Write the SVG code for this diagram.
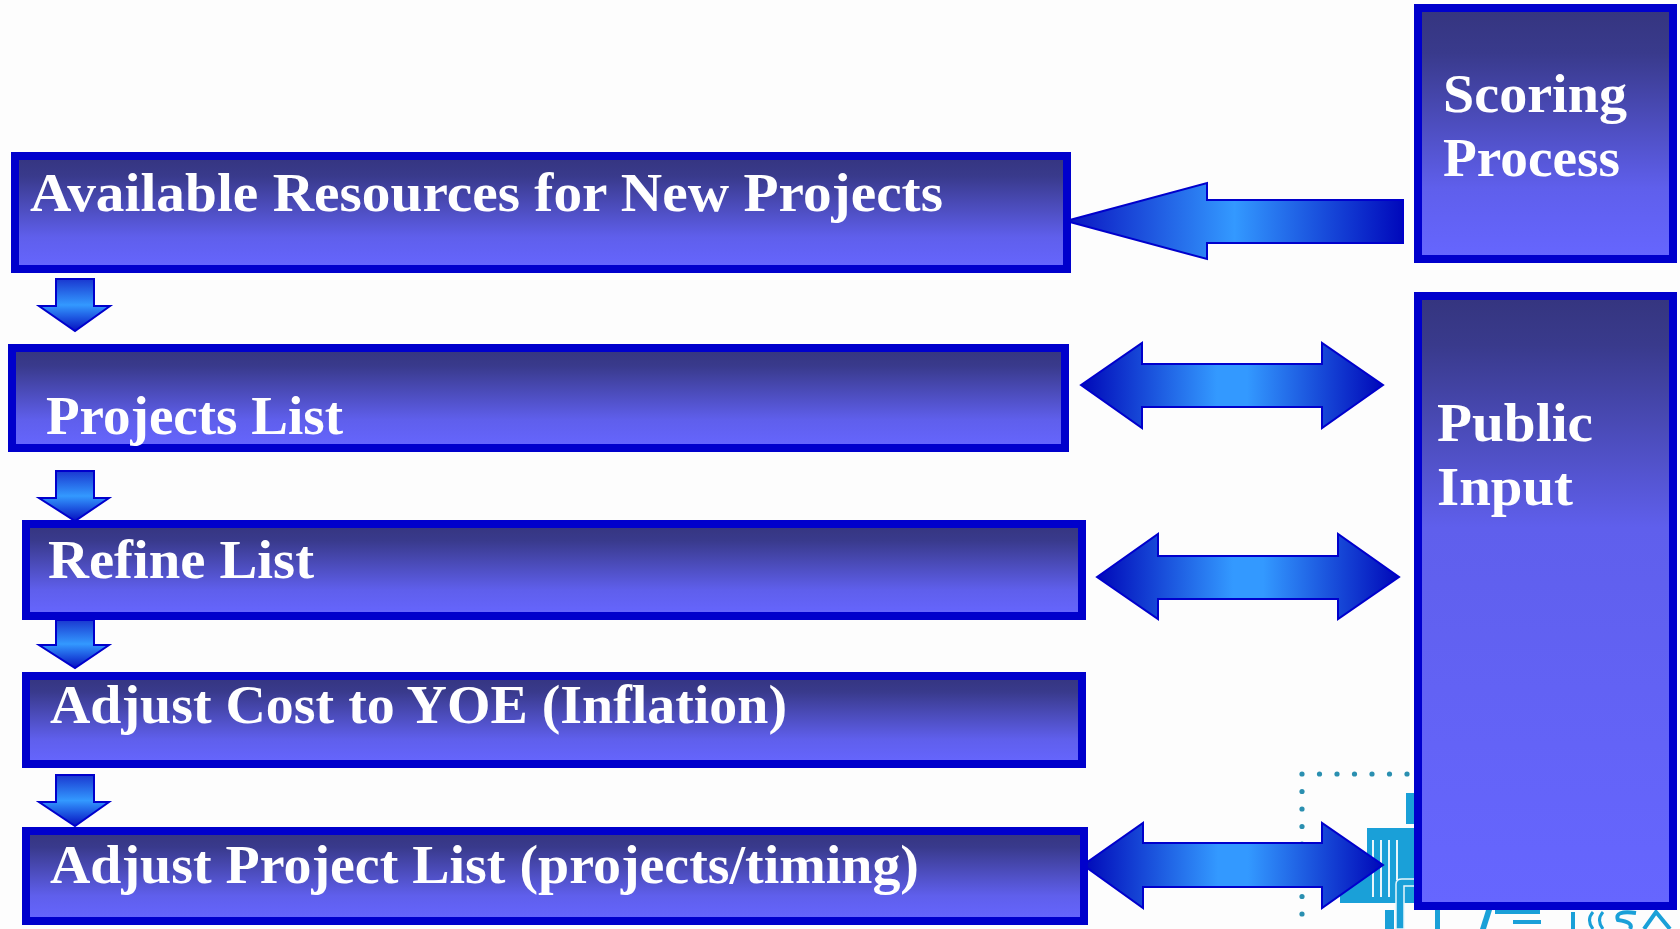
<svg xmlns="http://www.w3.org/2000/svg" width="1680" height="929" viewBox="0 0 1680 929">
  <defs>
    <linearGradient id="boxGrad" x1="0" y1="0" x2="0" y2="1">
      <stop offset="0" stop-color="#35357f"/>
      <stop offset="0.18" stop-color="#393a8c"/>
      <stop offset="0.72" stop-color="#5f5fec"/>
      <stop offset="1" stop-color="#6666ff"/>
    </linearGradient>
    <linearGradient id="tallGrad" gradientUnits="userSpaceOnUse" x1="0" y1="296" x2="0" y2="906">
      <stop offset="0" stop-color="#35357f"/>
      <stop offset="0.08" stop-color="#393a8c"/>
      <stop offset="0.38" stop-color="#5f5fec"/>
      <stop offset="1" stop-color="#6666ff"/>
    </linearGradient>
    <linearGradient id="hArrow" x1="0" y1="0" x2="1" y2="0">
      <stop offset="0" stop-color="#0008b8"/>
      <stop offset="0.45" stop-color="#3399ff"/>
      <stop offset="0.55" stop-color="#3399ff"/>
      <stop offset="1" stop-color="#0008b8"/>
    </linearGradient>
    <linearGradient id="lArrow" x1="0" y1="0" x2="1" y2="0">
      <stop offset="0" stop-color="#0a14c0"/>
      <stop offset="0.5" stop-color="#3399ff"/>
      <stop offset="1" stop-color="#0008bb"/>
    </linearGradient>
    <linearGradient id="vArrow" x1="0" y1="0" x2="0" y2="1">
      <stop offset="0" stop-color="#1a38d0"/>
      <stop offset="0.5" stop-color="#3399ff"/>
      <stop offset="1" stop-color="#0610c0"/>
    </linearGradient>
    <style>
      .box { fill: url(#boxGrad); stroke: #0000cc; stroke-width: 8; }
      .tall { fill: url(#tallGrad); }
      .lbl { font-family: "Liberation Serif", "DejaVu Serif", serif; font-weight: bold; font-size: 54px; fill: #ffffff; }
      .harrow { fill: url(#hArrow); stroke: #0000cc; stroke-width: 2; stroke-linejoin: miter; }
      .larrow { fill: url(#lArrow); stroke: #0000cc; stroke-width: 2; }
      .varrow { fill: url(#vArrow); stroke: #0000cc; stroke-width: 2; }
      .logo { fill: #1aa0d8; }
      .dot { fill: #2a8fb0; }
    </style>
  </defs>

  <rect x="0" y="0" width="1680" height="929" fill="#fdfdfd"/>

  <!-- background logo fragment -->
  <g id="logo">
    <g class="dot">
      <circle cx="1302" cy="774" r="2.6"/><circle cx="1319.5" cy="774" r="2.6"/><circle cx="1337" cy="774" r="2.6"/>
      <circle cx="1354.5" cy="774" r="2.6"/><circle cx="1372" cy="774" r="2.6"/><circle cx="1389.5" cy="774" r="2.6"/>
      <circle cx="1407" cy="774" r="2.6"/>
      <circle cx="1302" cy="791.5" r="2.6"/><circle cx="1302" cy="809" r="2.6"/><circle cx="1302" cy="826.5" r="2.6"/>
      <circle cx="1302" cy="844" r="2.6"/><circle cx="1302" cy="861.5" r="2.6"/><circle cx="1302" cy="879" r="2.6"/>
      <circle cx="1302" cy="896.5" r="2.6"/><circle cx="1302" cy="914" r="2.6"/>
    </g>
    <rect class="logo" x="1406" y="793" width="10" height="31"/>
    <polygon class="logo" points="1367,828 1415,828 1415,903 1340,903 1340,865 1367,865"/>
    <g stroke="#e8f6fc" stroke-width="2">
      <line x1="1373" y1="840" x2="1373" y2="897"/>
      <line x1="1381" y1="840" x2="1381" y2="897"/>
      <line x1="1389" y1="840" x2="1389" y2="897"/>
      <line x1="1397" y1="840" x2="1397" y2="880"/>
    </g>
    <path d="M1396,929 V884 Q1396,879 1402,879 H1416 V886 H1404 V929 Z" class="logo" stroke="#e8f6fc" stroke-width="1.5"/>
    <rect class="logo" x="1385" y="910" width="9" height="19"/>
    <rect class="logo" x="1435" y="910" width="5" height="19"/>
    <polygon class="logo" points="1480,929 1486,910 1492,910 1486,929"/>
    <rect class="logo" x="1495" y="910" width="45" height="4"/>
    <rect class="logo" x="1513" y="920" width="28" height="4"/>
    <rect class="logo" x="1571" y="912" width="4" height="17"/>
    <path d="M1593,912 Q1586,920 1593,929" fill="none" stroke="#1aa0d8" stroke-width="3"/>
    <path d="M1603,912 Q1596,920 1603,929" fill="none" stroke="#1aa0d8" stroke-width="3"/>
    <path d="M1636,913 Q1614,910 1618,920 Q1634,922 1630,929" fill="none" stroke="#1aa0d8" stroke-width="4"/>
    <path d="M1644,929 L1656,912 L1670,929" fill="none" stroke="#1aa0d8" stroke-width="4"/>
  </g>

  <!-- connectors -->
  <g id="connectors">
    <polygon class="larrow" points="1066,221 1207,183 1207,200 1403,200 1403,243 1207,243 1207,259"/>
    <polygon class="harrow" points="1081,385 1142,343 1142,364 1322,364 1322,343 1383,385 1322,428 1322,407 1142,407 1142,428"/>
    <polygon class="harrow" points="1097,577 1158,534 1158,556 1338,556 1338,534 1399,577 1338,619 1338,599 1158,599 1158,619"/>
    <polygon class="harrow" points="1083,865 1143,823 1143,843 1322,843 1322,823 1383,865 1322,908 1322,887 1143,887 1143,908"/>
    <polygon class="varrow" points="56,279 94,279 94,306 110,306 75,331 39,306 56,306"/>
    <polygon class="varrow" points="56,471 94,471 94,498 109,498 75,521 39,498 56,498"/>
    <polygon class="varrow" points="56,620 94,620 94,645 109,645 75,668 39,645 56,645"/>
    <polygon class="varrow" points="56,775 94,775 94,802 109,802 75,826 39,802 56,802"/>
  </g>

  <g id="available">
    <rect class="box" x="15" y="156" width="1052" height="113"/>
    <text class="lbl" x="30" y="211" textLength="913" lengthAdjust="spacingAndGlyphs">Available Resources for New Projects</text>
  </g>
  <g id="projects-list">
    <rect class="box" x="12" y="348" width="1053" height="100"/>
    <text class="lbl" x="46" y="434" textLength="297" lengthAdjust="spacingAndGlyphs">Projects List</text>
  </g>
  <g id="refine-list">
    <rect class="box" x="26" y="524" width="1056" height="92"/>
    <text class="lbl" x="48" y="578" textLength="266" lengthAdjust="spacingAndGlyphs">Refine List</text>
  </g>
  <g id="adjust-cost">
    <rect class="box" x="26" y="676" width="1056" height="88"/>
    <text class="lbl" x="50" y="723" textLength="737" lengthAdjust="spacingAndGlyphs">Adjust Cost to YOE (Inflation)</text>
  </g>
  <g id="adjust-project-list">
    <rect class="box" x="26" y="831" width="1058" height="90"/>
    <text class="lbl" x="50" y="883" textLength="869" lengthAdjust="spacingAndGlyphs">Adjust Project List (projects/timing)</text>
  </g>
  <g id="scoring-process">
    <rect class="box" x="1418" y="8" width="255" height="251"/>
    <text class="lbl" x="1443" y="112" textLength="184" lengthAdjust="spacingAndGlyphs">Scoring</text>
    <text class="lbl" x="1443" y="176" textLength="177" lengthAdjust="spacingAndGlyphs">Process</text>
  </g>
  <g id="public-input">
    <rect class="box tall" x="1418" y="296" width="255" height="610"/>
    <text class="lbl" x="1437" y="441" textLength="156" lengthAdjust="spacingAndGlyphs">Public</text>
    <text class="lbl" x="1437" y="505" textLength="136" lengthAdjust="spacingAndGlyphs">Input</text>
  </g>
</svg>
